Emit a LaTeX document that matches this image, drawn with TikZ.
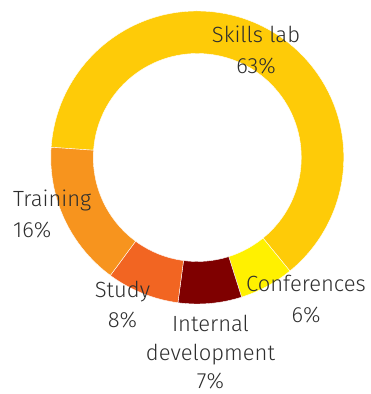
\documentclass[tikz,border=0pt]{standalone}
\usepackage{fontspec}
\setmainfont{Fira Sans Light}
\definecolor{skills}{HTML}{FECB08}
\definecolor{training}{HTML}{F7941E}
\definecolor{study}{HTML}{F26522}
\definecolor{internal}{HTML}{7F0000}
\definecolor{conf}{HTML}{FFF100}
\definecolor{txt}{HTML}{2E2E2E}
\tikzset{
  seg/.style={draw=white, line width=0.4pt},
  lbl/.style={inner sep=0pt, text=txt, font=\fontsize{22}{30.5}\selectfont, align=center},
}
\newcommand{\donutseg}[3]{%
  \fill[#3, seg] (#1:146.5) arc[start angle=#1, end angle=#2, radius=146.5]
    -- (#2:104) arc[start angle=#2, end angle=#1, radius=104] -- cycle;}
\begin{document}
\begin{tikzpicture}[x=1pt, y=1pt]
\useasboundingbox (0,0) rectangle (370,394);
\begin{scope}[shift={(197.3,236.5)}]
\donutseg{176}{-50.8}{skills}
\donutseg{-50.8}{-72.4}{conf}
\donutseg{-72.4}{-97.6}{internal}
\donutseg{-97.6}{-126.4}{study}
\donutseg{-126.4}{-184}{training}
\end{scope}
\node[lbl] (skills) at (256,343.8) {Skills lab\\63\%};
\node[lbl, align=left, anchor=west] (training) at (13,180) {Training\\16\%};
\node[lbl] (study) at (122.5,89.5) {Study\\8\%};
\node[lbl, font=\fontsize{22}{28.5}\selectfont] (internal) at (210.5,41.5) {Internal\\development\\7\%};
\node[lbl] (conf) at (306,95) {Conferences\\6\%};
\end{tikzpicture}
\end{document}
